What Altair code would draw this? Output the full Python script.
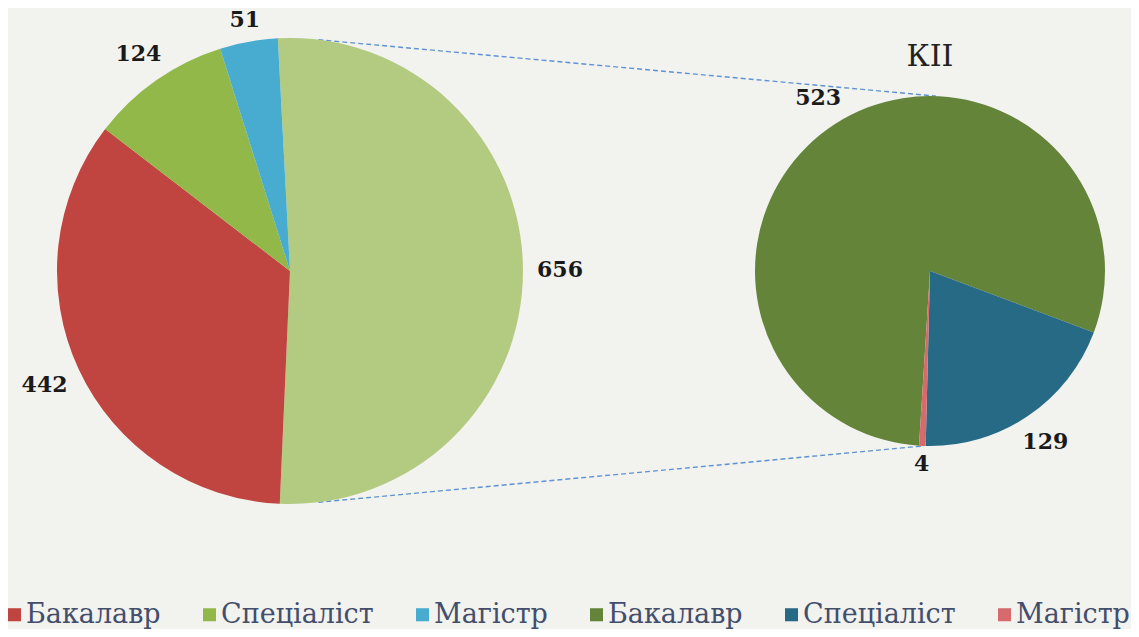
import math
import altair as alt
import pandas as pd

# ---- data ----
left_cats = ["КІІ", "Бакалавр", "Спеціаліст", "Магістр"]
left_vals = [656, 442, 124, 51]
left_keys = ["0 КІІ", "1 Бакалавр", "2 Спеціаліст", "3 Магістр"]

right_cats = ["Бакалавр", "Спеціаліст", "Магістр"]
right_vals = [523, 129, 4]
right_keys = ["4 Бакалавр", "5 Спеціаліст", "6 Магістр"]

legend_keys = ["1 Бакалавр", "2 Спеціаліст", "3 Магістр",
               "4 Бакалавр", "5 Спеціаліст", "6 Магістр"]
color_domain = legend_keys + ["0 КІІ"]
color_range = ["#c0443f", "#92b84a", "#47acd0",
               "#64843a", "#276a86", "#d66a6c", "#b2cb80"]

title_text = ["КІІ"]

# ---- geometry ----
W, H = 1123, 621
LCX, LCY, LR = 282, 263, 233
RCX, RCY, RR = 922, 263, 175
L_START = math.radians(-3.0)
R_START = math.radians(-176.4)
TAU = 2 * math.pi

left_df = pd.DataFrame({"cat": left_cats, "val": left_vals, "key": left_keys,
                        "ord": list(range(len(left_cats)))})
right_df = pd.DataFrame({"cat": right_cats, "val": right_vals, "key": right_keys,
                         "ord": list(range(len(right_cats)))})

color = alt.Color(
    "key:N",
    scale=alt.Scale(domain=color_domain, range=color_range),
    legend=alt.Legend(
        values=legend_keys, orient="none", legendX=-7, legendY=593,
        direction="horizontal", title=None, symbolType="square",
        symbolSize=170, symbolStrokeWidth=0, labelFont="DejaVu Serif",
        labelFontSize=27, labelColor="#424e6c", columnPadding=35,
        labelOffset=alt.ExprRef(expr="-2"),
        labelExpr="substring(datum.label, 2)",
        labelLimit=300,
    ),
)

def pie(df, cx, cy, r, start):
    theta = alt.Theta("val:Q", stack=True,
                      scale=alt.Scale(range=[start, start + TAU]))
    arc = alt.Chart(df).mark_arc(x=cx, y=cy, outerRadius=r, stroke=None).encode(
        theta=theta, order=alt.Order("ord:Q"), color=color)
    txt = alt.Chart(df).transform_window(
        cum="sum(val)", sort=[alt.SortField("ord")], frame=[None, 0]
    ).transform_joinaggregate(
        total="sum(val)"
    ).transform_calculate(
        mid=f"{start} + {TAU} * (datum.cum - datum.val / 2) / datum.total"
    ).transform_calculate(
        lr=f"{r} + 9 + 28 * abs(sin(datum.mid)) + 8 * abs(cos(datum.mid))"
    ).mark_text(
        x=cx, y=cy, font="DejaVu Serif", fontWeight="bold", fontSize=22,
        color="#1a1a1a", align="center", baseline="middle"
    ).encode(
        text="val:Q",
        theta=alt.Theta("mid:Q", scale=None),
        radius=alt.Radius("lr:Q", scale=None),
    )
    return arc, txt

l_arc, l_txt = pie(left_df, LCX, LCY, LR, L_START)
r_arc, r_txt = pie(right_df, RCX, RCY, RR, R_START)

# connectors between the pies (points on each pie's rim)
def rim(cx, cy, r, deg):
    a = math.radians(deg)
    return cx + r * math.sin(a), cy - r * math.cos(a)

lt = rim(LCX, LCY, LR, 7)
lb = rim(LCX, LCY, LR, 173)
rt = rim(RCX, RCY, RR, 2)
rb = rim(RCX, RCY, RR, 182)
conn_df = pd.DataFrame({"x": [lt[0], lb[0]], "y": [lt[1], lb[1]],
                        "x2": [rt[0], rb[0]], "y2": [rt[1], rb[1]]})
conn = alt.Chart(conn_df).mark_rule(
    strokeDash=[5, 3], color="#5f92d4", strokeWidth=1.4
).encode(
    x=alt.X("x:Q", scale=None, axis=None),
    y=alt.Y("y:Q", scale=None, axis=None),
    x2="x2:Q", y2="y2:Q",
)

title = alt.Chart(pd.DataFrame({"t": title_text})).mark_text(
    x=RCX, y=49, font="DejaVu Serif", fontSize=30, color="#222222",
    align="center", baseline="middle"
).encode(text="t:N")

chart = alt.layer(conn, l_arc, l_txt, r_arc, r_txt, title).resolve_scale(
    theta="independent"
).properties(
    width=W, height=H, autosize=alt.AutoSizeParams(type="none"), padding=0,
    background="#f2f2ef",
).configure_view(stroke=None)

chart.save("out.html", embed_options={"renderer": "svg", "actions": False})
